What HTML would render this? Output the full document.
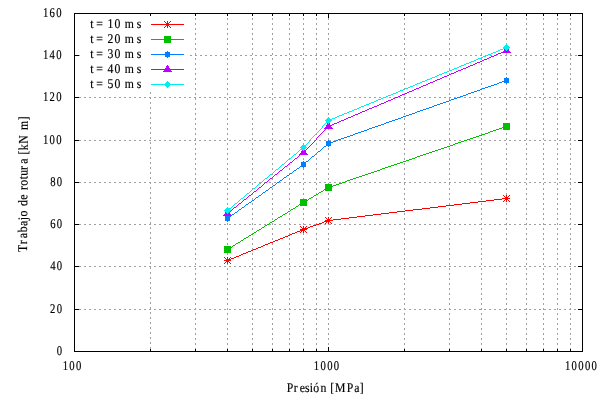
<!DOCTYPE html>
<html><head><meta charset="utf-8"><style>
html,body{margin:0;padding:0;background:#fff;width:600px;height:400px;overflow:hidden}
svg{display:block}
text{font-family:"Liberation Serif",serif;font-size:13.333px;white-space:pre;fill:#000;stroke:#000;stroke-width:0.18px;text-rendering:geometricPrecision}
</style></head><body>
<svg width="600" height="400" viewBox="0 0 600 400" shape-rendering="crispEdges" style="will-change:transform">
<rect width="600" height="400" fill="#fff"/>
<path fill="#a0a0a4" d="M74 55h2v1h-2zM74 97h2v1h-2zM74 140h2v1h-2zM74 182h2v1h-2zM74 224h2v1h-2zM74 266h2v1h-2zM74 309h2v1h-2zM79 55h1v1h-1zM79 97h2v1h-2zM79 140h2v1h-2zM79 182h2v1h-2zM79 224h2v1h-2zM79 266h2v1h-2zM79 309h2v1h-2zM84 97h2v1h-2zM84 140h2v1h-2zM84 182h2v1h-2zM84 224h2v1h-2zM84 266h2v1h-2zM84 309h2v1h-2zM89 97h2v1h-2zM89 140h2v1h-2zM89 182h2v1h-2zM89 224h2v1h-2zM89 266h2v1h-2zM89 309h2v1h-2zM94 97h2v1h-2zM94 140h2v1h-2zM94 182h2v1h-2zM94 224h2v1h-2zM94 266h2v1h-2zM94 309h2v1h-2zM99 97h2v1h-2zM99 140h2v1h-2zM99 182h2v1h-2zM99 224h2v1h-2zM99 266h2v1h-2zM99 309h2v1h-2zM104 97h2v1h-2zM104 140h2v1h-2zM104 182h2v1h-2zM104 224h2v1h-2zM104 266h2v1h-2zM104 309h2v1h-2zM109 97h2v1h-2zM109 140h2v1h-2zM109 182h2v1h-2zM109 224h2v1h-2zM109 266h2v1h-2zM109 309h2v1h-2zM114 97h2v1h-2zM114 140h2v1h-2zM114 182h2v1h-2zM114 224h2v1h-2zM114 266h2v1h-2zM114 309h2v1h-2zM119 97h2v1h-2zM119 140h2v1h-2zM119 182h2v1h-2zM119 224h2v1h-2zM119 266h2v1h-2zM119 309h2v1h-2zM124 97h2v1h-2zM124 140h2v1h-2zM124 182h2v1h-2zM124 224h2v1h-2zM124 266h2v1h-2zM124 309h2v1h-2zM129 97h2v1h-2zM129 140h2v1h-2zM129 182h2v1h-2zM129 224h2v1h-2zM129 266h2v1h-2zM129 309h2v1h-2zM134 97h2v1h-2zM134 140h2v1h-2zM134 182h2v1h-2zM134 224h2v1h-2zM134 266h2v1h-2zM134 309h2v1h-2zM139 97h2v1h-2zM139 140h2v1h-2zM139 182h2v1h-2zM139 224h2v1h-2zM139 266h2v1h-2zM139 309h2v1h-2zM144 97h2v1h-2zM144 140h2v1h-2zM144 182h2v1h-2zM144 224h2v1h-2zM144 266h2v1h-2zM144 309h2v1h-2zM149 97h2v1h-2zM149 140h2v1h-2zM149 182h2v1h-2zM149 224h2v1h-2zM149 266h2v1h-2zM149 309h2v1h-2zM150 92h1v2h-1zM150 98h1v1h-1zM150 102h1v2h-1zM150 107h1v2h-1zM150 112h1v2h-1zM150 117h1v2h-1zM150 122h1v2h-1zM150 127h1v2h-1zM150 132h1v2h-1zM150 137h1v2h-1zM150 142h1v2h-1zM150 147h1v2h-1zM150 152h1v2h-1zM150 157h1v2h-1zM150 162h1v2h-1zM150 167h1v2h-1zM150 172h1v2h-1zM150 177h1v2h-1zM150 183h1v1h-1zM150 187h1v2h-1zM150 192h1v2h-1zM150 197h1v2h-1zM150 202h1v2h-1zM150 207h1v2h-1zM150 212h1v2h-1zM150 217h1v2h-1zM150 222h1v2h-1zM150 227h1v2h-1zM150 232h1v2h-1zM150 237h1v2h-1zM150 242h1v2h-1zM150 247h1v2h-1zM150 252h1v2h-1zM150 257h1v2h-1zM150 262h1v2h-1zM150 267h1v2h-1zM150 272h1v2h-1zM150 277h1v2h-1zM150 282h1v2h-1zM150 287h1v2h-1zM150 292h1v2h-1zM150 297h1v2h-1zM150 302h1v2h-1zM150 307h1v2h-1zM150 312h1v2h-1zM150 317h1v2h-1zM150 322h1v2h-1zM150 327h1v2h-1zM150 332h1v2h-1zM150 337h1v2h-1zM150 342h1v2h-1zM150 347h1v2h-1zM154 97h2v1h-2zM154 140h2v1h-2zM154 182h2v1h-2zM154 224h2v1h-2zM154 266h2v1h-2zM154 309h2v1h-2zM159 97h2v1h-2zM159 140h2v1h-2zM159 182h2v1h-2zM159 224h2v1h-2zM159 266h2v1h-2zM159 309h2v1h-2zM164 97h2v1h-2zM164 140h2v1h-2zM164 182h2v1h-2zM164 224h2v1h-2zM164 266h2v1h-2zM164 309h2v1h-2zM169 97h2v1h-2zM169 140h2v1h-2zM169 182h2v1h-2zM169 224h2v1h-2zM169 266h2v1h-2zM169 309h2v1h-2zM174 97h2v1h-2zM174 140h2v1h-2zM174 182h2v1h-2zM174 224h2v1h-2zM174 266h2v1h-2zM174 309h2v1h-2zM179 97h2v1h-2zM179 140h2v1h-2zM179 182h2v1h-2zM179 224h2v1h-2zM179 266h2v1h-2zM179 309h2v1h-2zM184 97h2v1h-2zM184 140h2v1h-2zM184 182h2v1h-2zM184 224h2v1h-2zM184 266h2v1h-2zM184 309h2v1h-2zM189 97h2v1h-2zM189 140h2v1h-2zM189 182h2v1h-2zM189 224h2v1h-2zM189 266h2v1h-2zM189 309h2v1h-2zM190 55h2v1h-2zM194 97h2v1h-2zM194 140h2v1h-2zM194 182h2v1h-2zM194 224h2v1h-2zM194 266h2v1h-2zM194 309h2v1h-2zM195 13h1v2h-1zM195 18h1v2h-1zM195 23h1v2h-1zM195 28h1v2h-1zM195 33h1v2h-1zM195 38h1v2h-1zM195 43h1v2h-1zM195 48h1v2h-1zM195 53h1v2h-1zM195 58h1v2h-1zM195 63h1v2h-1zM195 68h1v2h-1zM195 73h1v2h-1zM195 78h1v2h-1zM195 83h1v2h-1zM195 88h1v2h-1zM195 93h1v2h-1zM195 98h1v2h-1zM195 103h1v2h-1zM195 108h1v2h-1zM195 113h1v2h-1zM195 118h1v2h-1zM195 123h1v2h-1zM195 128h1v2h-1zM195 133h1v2h-1zM195 138h1v2h-1zM195 143h1v2h-1zM195 148h1v2h-1zM195 153h1v2h-1zM195 158h1v2h-1zM195 163h1v2h-1zM195 168h1v2h-1zM195 173h1v2h-1zM195 178h1v2h-1zM195 183h1v2h-1zM195 188h1v2h-1zM195 193h1v2h-1zM195 198h1v2h-1zM195 203h1v2h-1zM195 208h1v2h-1zM195 213h1v2h-1zM195 218h1v2h-1zM195 223h1v1h-1zM195 228h1v2h-1zM195 233h1v2h-1zM195 238h1v2h-1zM195 243h1v2h-1zM195 248h1v2h-1zM195 253h1v2h-1zM195 258h1v2h-1zM195 263h1v2h-1zM195 268h1v2h-1zM195 273h1v2h-1zM195 278h1v2h-1zM195 283h1v2h-1zM195 288h1v2h-1zM195 293h1v2h-1zM195 298h1v2h-1zM195 303h1v2h-1zM195 308h1v1h-1zM195 313h1v2h-1zM195 318h1v2h-1zM195 323h1v2h-1zM195 328h1v2h-1zM195 333h1v2h-1zM195 338h1v2h-1zM195 343h1v2h-1zM195 348h1v2h-1zM195 55h2v1h-2zM199 97h2v1h-2zM199 140h2v1h-2zM199 182h2v1h-2zM199 224h2v1h-2zM199 266h2v1h-2zM199 309h2v1h-2zM200 55h2v1h-2zM204 97h2v1h-2zM204 140h2v1h-2zM204 182h2v1h-2zM204 224h2v1h-2zM204 266h2v1h-2zM204 309h2v1h-2zM205 55h2v1h-2zM209 97h2v1h-2zM209 140h2v1h-2zM209 182h2v1h-2zM209 224h2v1h-2zM209 266h2v1h-2zM209 309h2v1h-2zM210 55h2v1h-2zM214 97h2v1h-2zM214 140h2v1h-2zM214 182h2v1h-2zM214 224h2v1h-2zM214 266h2v1h-2zM214 309h2v1h-2zM215 55h2v1h-2zM219 97h2v1h-2zM219 140h2v1h-2zM219 182h2v1h-2zM219 224h2v1h-2zM219 266h2v1h-2zM219 309h2v1h-2zM220 55h2v1h-2zM224 97h2v1h-2zM224 140h2v1h-2zM224 182h2v1h-2zM224 224h2v1h-2zM224 266h2v1h-2zM224 309h2v1h-2zM225 55h2v1h-2zM227 13h1v2h-1zM227 18h1v2h-1zM227 23h1v2h-1zM227 28h1v2h-1zM227 33h1v2h-1zM227 38h1v2h-1zM227 43h1v2h-1zM227 48h1v2h-1zM227 53h1v2h-1zM227 58h1v2h-1zM227 63h1v2h-1zM227 68h1v2h-1zM227 73h1v2h-1zM227 78h1v2h-1zM227 83h1v2h-1zM227 88h1v2h-1zM227 93h1v2h-1zM227 98h1v2h-1zM227 103h1v2h-1zM227 108h1v2h-1zM227 113h1v2h-1zM227 118h1v2h-1zM227 123h1v2h-1zM227 128h1v2h-1zM227 133h1v2h-1zM227 138h1v2h-1zM227 143h1v2h-1zM227 148h1v2h-1zM227 153h1v2h-1zM227 158h1v2h-1zM227 163h1v2h-1zM227 168h1v2h-1zM227 173h1v2h-1zM227 178h1v2h-1zM227 183h1v2h-1zM227 188h1v2h-1zM227 193h1v2h-1zM227 198h1v2h-1zM227 203h1v2h-1zM227 208h1v2h-1zM227 213h1v2h-1zM227 218h1v2h-1zM227 223h1v2h-1zM227 228h1v2h-1zM227 233h1v2h-1zM227 238h1v2h-1zM227 243h1v2h-1zM227 248h1v2h-1zM227 253h1v2h-1zM227 258h1v2h-1zM227 263h1v2h-1zM227 268h1v2h-1zM227 273h1v2h-1zM227 278h1v2h-1zM227 283h1v2h-1zM227 288h1v2h-1zM227 293h1v2h-1zM227 298h1v2h-1zM227 303h1v2h-1zM227 308h1v2h-1zM227 313h1v2h-1zM227 318h1v2h-1zM227 323h1v2h-1zM227 328h1v2h-1zM227 333h1v2h-1zM227 338h1v2h-1zM227 343h1v2h-1zM227 348h1v2h-1zM229 97h2v1h-2zM229 140h2v1h-2zM229 182h2v1h-2zM229 224h2v1h-2zM229 266h2v1h-2zM229 309h2v1h-2zM230 55h2v1h-2zM234 97h2v1h-2zM234 140h2v1h-2zM234 182h2v1h-2zM234 224h2v1h-2zM234 266h2v1h-2zM234 309h2v1h-2zM235 55h2v1h-2zM239 97h2v1h-2zM239 140h2v1h-2zM239 182h2v1h-2zM239 224h2v1h-2zM239 266h2v1h-2zM239 309h2v1h-2zM240 55h2v1h-2zM244 97h2v1h-2zM244 140h2v1h-2zM244 182h2v1h-2zM244 224h2v1h-2zM244 266h2v1h-2zM244 309h2v1h-2zM245 55h2v1h-2zM249 97h2v1h-2zM249 140h2v1h-2zM249 182h2v1h-2zM249 224h2v1h-2zM249 266h2v1h-2zM249 309h2v1h-2zM250 55h2v1h-2zM252 13h1v2h-1zM252 18h1v2h-1zM252 23h1v2h-1zM252 28h1v2h-1zM252 33h1v2h-1zM252 38h1v2h-1zM252 43h1v2h-1zM252 48h1v2h-1zM252 53h1v2h-1zM252 58h1v2h-1zM252 63h1v2h-1zM252 68h1v2h-1zM252 73h1v2h-1zM252 78h1v2h-1zM252 83h1v2h-1zM252 88h1v2h-1zM252 93h1v2h-1zM252 98h1v2h-1zM252 103h1v2h-1zM252 108h1v2h-1zM252 113h1v2h-1zM252 118h1v2h-1zM252 123h1v2h-1zM252 128h1v2h-1zM252 133h1v2h-1zM252 138h1v2h-1zM252 143h1v2h-1zM252 148h1v2h-1zM252 153h1v2h-1zM252 158h1v2h-1zM252 163h1v2h-1zM252 168h1v2h-1zM252 173h1v2h-1zM252 178h1v2h-1zM252 183h1v2h-1zM252 188h1v2h-1zM252 193h1v2h-1zM252 198h1v2h-1zM252 203h1v2h-1zM252 208h1v2h-1zM252 213h1v2h-1zM252 218h1v2h-1zM252 223h1v2h-1zM252 228h1v2h-1zM252 233h1v2h-1zM252 238h1v2h-1zM252 243h1v2h-1zM252 248h1v2h-1zM252 253h1v2h-1zM252 258h1v2h-1zM252 263h1v2h-1zM252 268h1v2h-1zM252 273h1v2h-1zM252 278h1v2h-1zM252 283h1v2h-1zM252 288h1v2h-1zM252 293h1v2h-1zM252 298h1v2h-1zM252 303h1v2h-1zM252 308h1v2h-1zM252 313h1v2h-1zM252 318h1v2h-1zM252 323h1v2h-1zM252 328h1v2h-1zM252 333h1v2h-1zM252 338h1v2h-1zM252 343h1v2h-1zM252 348h1v2h-1zM254 97h2v1h-2zM254 140h2v1h-2zM254 182h2v1h-2zM254 224h2v1h-2zM254 266h2v1h-2zM254 309h2v1h-2zM255 55h2v1h-2zM259 97h2v1h-2zM259 140h2v1h-2zM259 182h2v1h-2zM259 224h2v1h-2zM259 266h2v1h-2zM259 309h2v1h-2zM260 55h2v1h-2zM264 97h2v1h-2zM264 140h2v1h-2zM264 182h2v1h-2zM264 224h2v1h-2zM264 266h2v1h-2zM264 309h2v1h-2zM265 55h2v1h-2zM269 97h2v1h-2zM269 140h2v1h-2zM269 182h2v1h-2zM269 224h2v1h-2zM269 266h2v1h-2zM269 309h2v1h-2zM270 55h2v1h-2zM272 13h1v2h-1zM272 18h1v2h-1zM272 23h1v2h-1zM272 28h1v2h-1zM272 33h1v2h-1zM272 38h1v2h-1zM272 43h1v2h-1zM272 48h1v2h-1zM272 53h1v2h-1zM272 58h1v2h-1zM272 63h1v2h-1zM272 68h1v2h-1zM272 73h1v2h-1zM272 78h1v2h-1zM272 83h1v2h-1zM272 88h1v2h-1zM272 93h1v2h-1zM272 98h1v2h-1zM272 103h1v2h-1zM272 108h1v2h-1zM272 113h1v2h-1zM272 118h1v2h-1zM272 123h1v2h-1zM272 128h1v2h-1zM272 133h1v2h-1zM272 138h1v2h-1zM272 143h1v2h-1zM272 148h1v2h-1zM272 153h1v2h-1zM272 158h1v2h-1zM272 163h1v2h-1zM272 168h1v2h-1zM272 173h1v2h-1zM272 178h1v2h-1zM272 183h1v2h-1zM272 188h1v2h-1zM272 193h1v2h-1zM272 198h1v2h-1zM272 203h1v2h-1zM272 208h1v2h-1zM272 213h1v2h-1zM272 218h1v2h-1zM272 223h1v2h-1zM272 228h1v2h-1zM272 233h1v2h-1zM272 238h1v2h-1zM272 243h1v2h-1zM272 248h1v2h-1zM272 253h1v2h-1zM272 258h1v2h-1zM272 263h1v2h-1zM272 268h1v2h-1zM272 273h1v2h-1zM272 278h1v2h-1zM272 283h1v2h-1zM272 288h1v2h-1zM272 293h1v2h-1zM272 298h1v2h-1zM272 303h1v2h-1zM272 308h1v2h-1zM272 313h1v2h-1zM272 318h1v2h-1zM272 323h1v2h-1zM272 328h1v2h-1zM272 333h1v2h-1zM272 338h1v2h-1zM272 343h1v2h-1zM272 348h1v2h-1zM274 97h2v1h-2zM274 140h2v1h-2zM274 182h2v1h-2zM274 224h2v1h-2zM274 266h2v1h-2zM274 309h2v1h-2zM275 55h2v1h-2zM279 97h2v1h-2zM279 140h2v1h-2zM279 182h2v1h-2zM279 224h2v1h-2zM279 266h2v1h-2zM279 309h2v1h-2zM280 55h2v1h-2zM284 97h2v1h-2zM284 140h2v1h-2zM284 182h2v1h-2zM284 224h2v1h-2zM284 266h2v1h-2zM284 309h2v1h-2zM285 55h2v1h-2zM289 13h1v2h-1zM289 18h1v2h-1zM289 23h1v2h-1zM289 28h1v2h-1zM289 33h1v2h-1zM289 38h1v2h-1zM289 43h1v2h-1zM289 48h1v2h-1zM289 53h1v2h-1zM289 58h1v2h-1zM289 63h1v2h-1zM289 68h1v2h-1zM289 73h1v2h-1zM289 78h1v2h-1zM289 83h1v2h-1zM289 88h1v2h-1zM289 93h1v2h-1zM289 98h1v2h-1zM289 103h1v2h-1zM289 108h1v2h-1zM289 113h1v2h-1zM289 118h1v2h-1zM289 123h1v2h-1zM289 128h1v2h-1zM289 133h1v2h-1zM289 138h1v2h-1zM289 143h1v2h-1zM289 148h1v2h-1zM289 153h1v2h-1zM289 158h1v2h-1zM289 163h1v2h-1zM289 168h1v2h-1zM289 173h1v2h-1zM289 178h1v2h-1zM289 183h1v2h-1zM289 188h1v2h-1zM289 193h1v2h-1zM289 198h1v2h-1zM289 203h1v2h-1zM289 208h1v2h-1zM289 213h1v2h-1zM289 218h1v2h-1zM289 223h1v1h-1zM289 228h1v2h-1zM289 233h1v2h-1zM289 238h1v2h-1zM289 243h1v2h-1zM289 248h1v2h-1zM289 253h1v2h-1zM289 258h1v2h-1zM289 263h1v2h-1zM289 268h1v2h-1zM289 273h1v2h-1zM289 278h1v2h-1zM289 283h1v2h-1zM289 288h1v2h-1zM289 293h1v2h-1zM289 298h1v2h-1zM289 303h1v2h-1zM289 308h1v1h-1zM289 313h1v2h-1zM289 318h1v2h-1zM289 323h1v2h-1zM289 328h1v2h-1zM289 333h1v2h-1zM289 338h1v2h-1zM289 343h1v2h-1zM289 348h1v2h-1zM289 97h2v1h-2zM289 140h2v1h-2zM289 182h2v1h-2zM289 224h2v1h-2zM289 266h2v1h-2zM289 309h2v1h-2zM290 55h2v1h-2zM294 97h2v1h-2zM294 140h2v1h-2zM294 182h2v1h-2zM294 224h2v1h-2zM294 266h2v1h-2zM294 309h2v1h-2zM295 55h2v1h-2zM299 97h2v1h-2zM299 140h2v1h-2zM299 182h2v1h-2zM299 224h2v1h-2zM299 266h2v1h-2zM299 309h2v1h-2zM300 55h2v1h-2zM303 13h1v2h-1zM303 18h1v2h-1zM303 23h1v2h-1zM303 28h1v2h-1zM303 33h1v2h-1zM303 38h1v2h-1zM303 43h1v2h-1zM303 48h1v2h-1zM303 53h1v2h-1zM303 58h1v2h-1zM303 63h1v2h-1zM303 68h1v2h-1zM303 73h1v2h-1zM303 78h1v2h-1zM303 83h1v2h-1zM303 88h1v2h-1zM303 93h1v2h-1zM303 98h1v2h-1zM303 103h1v2h-1zM303 108h1v2h-1zM303 113h1v2h-1zM303 118h1v2h-1zM303 123h1v2h-1zM303 128h1v2h-1zM303 133h1v2h-1zM303 138h1v2h-1zM303 143h1v2h-1zM303 148h1v2h-1zM303 153h1v2h-1zM303 158h1v2h-1zM303 163h1v2h-1zM303 168h1v2h-1zM303 173h1v2h-1zM303 178h1v2h-1zM303 183h1v2h-1zM303 188h1v2h-1zM303 193h1v2h-1zM303 198h1v2h-1zM303 203h1v2h-1zM303 208h1v2h-1zM303 213h1v2h-1zM303 218h1v2h-1zM303 223h1v1h-1zM303 228h1v2h-1zM303 233h1v2h-1zM303 238h1v2h-1zM303 243h1v2h-1zM303 248h1v2h-1zM303 253h1v2h-1zM303 258h1v2h-1zM303 263h1v2h-1zM303 268h1v2h-1zM303 273h1v2h-1zM303 278h1v2h-1zM303 283h1v2h-1zM303 288h1v2h-1zM303 293h1v2h-1zM303 298h1v2h-1zM303 303h1v2h-1zM303 308h1v1h-1zM303 313h1v2h-1zM303 318h1v2h-1zM303 323h1v2h-1zM303 328h1v2h-1zM303 333h1v2h-1zM303 338h1v2h-1zM303 343h1v2h-1zM303 348h1v2h-1zM303 224h3v1h-3zM303 309h3v1h-3zM304 97h2v1h-2zM304 140h2v1h-2zM304 182h2v1h-2zM304 266h2v1h-2zM305 55h2v1h-2zM309 97h2v1h-2zM309 140h2v1h-2zM309 182h2v1h-2zM309 224h2v1h-2zM309 266h2v1h-2zM309 309h2v1h-2zM310 55h2v1h-2zM314 97h2v1h-2zM314 140h2v1h-2zM314 182h2v1h-2zM314 266h2v1h-2zM314 224h3v1h-3zM314 309h3v1h-3zM315 55h2v1h-2zM316 13h1v2h-1zM316 18h1v2h-1zM316 23h1v2h-1zM316 28h1v2h-1zM316 33h1v2h-1zM316 38h1v2h-1zM316 43h1v2h-1zM316 48h1v2h-1zM316 53h1v2h-1zM316 58h1v2h-1zM316 63h1v2h-1zM316 68h1v2h-1zM316 73h1v2h-1zM316 78h1v2h-1zM316 83h1v2h-1zM316 88h1v2h-1zM316 93h1v2h-1zM316 98h1v2h-1zM316 103h1v2h-1zM316 108h1v2h-1zM316 113h1v2h-1zM316 118h1v2h-1zM316 123h1v2h-1zM316 128h1v2h-1zM316 133h1v2h-1zM316 138h1v2h-1zM316 143h1v2h-1zM316 148h1v2h-1zM316 153h1v2h-1zM316 158h1v2h-1zM316 163h1v2h-1zM316 168h1v2h-1zM316 173h1v2h-1zM316 178h1v2h-1zM316 183h1v2h-1zM316 188h1v2h-1zM316 193h1v2h-1zM316 198h1v2h-1zM316 203h1v2h-1zM316 208h1v2h-1zM316 213h1v2h-1zM316 218h1v2h-1zM316 223h1v1h-1zM316 228h1v2h-1zM316 233h1v2h-1zM316 238h1v2h-1zM316 243h1v2h-1zM316 248h1v2h-1zM316 253h1v2h-1zM316 258h1v2h-1zM316 263h1v2h-1zM316 268h1v2h-1zM316 273h1v2h-1zM316 278h1v2h-1zM316 283h1v2h-1zM316 288h1v2h-1zM316 293h1v2h-1zM316 298h1v2h-1zM316 303h1v2h-1zM316 308h1v1h-1zM316 313h1v2h-1zM316 318h1v2h-1zM316 323h1v2h-1zM316 328h1v2h-1zM316 333h1v2h-1zM316 338h1v2h-1zM316 343h1v2h-1zM316 348h1v2h-1zM319 97h2v1h-2zM319 140h2v1h-2zM319 182h2v1h-2zM319 224h2v1h-2zM319 266h2v1h-2zM319 309h2v1h-2zM320 55h2v1h-2zM324 97h2v1h-2zM324 140h2v1h-2zM324 182h2v1h-2zM324 224h2v1h-2zM324 266h2v1h-2zM324 309h2v1h-2zM325 55h2v1h-2zM328 13h1v2h-1zM328 18h1v2h-1zM328 23h1v2h-1zM328 28h1v2h-1zM328 33h1v2h-1zM328 38h1v2h-1zM328 43h1v2h-1zM328 48h1v2h-1zM328 53h1v2h-1zM328 58h1v2h-1zM328 63h1v2h-1zM328 68h1v2h-1zM328 73h1v2h-1zM328 78h1v2h-1zM328 83h1v2h-1zM328 88h1v2h-1zM328 93h1v2h-1zM328 98h1v2h-1zM328 103h1v2h-1zM328 108h1v2h-1zM328 113h1v2h-1zM328 118h1v2h-1zM328 123h1v2h-1zM328 128h1v2h-1zM328 133h1v2h-1zM328 138h1v2h-1zM328 143h1v2h-1zM328 148h1v2h-1zM328 153h1v2h-1zM328 158h1v2h-1zM328 163h1v2h-1zM328 168h1v2h-1zM328 173h1v2h-1zM328 178h1v2h-1zM328 183h1v2h-1zM328 188h1v2h-1zM328 193h1v2h-1zM328 198h1v2h-1zM328 203h1v2h-1zM328 208h1v2h-1zM328 213h1v2h-1zM328 218h1v2h-1zM328 223h1v1h-1zM328 228h1v2h-1zM328 233h1v2h-1zM328 238h1v2h-1zM328 243h1v2h-1zM328 248h1v2h-1zM328 253h1v2h-1zM328 258h1v2h-1zM328 263h1v2h-1zM328 268h1v2h-1zM328 273h1v2h-1zM328 278h1v2h-1zM328 283h1v2h-1zM328 288h1v2h-1zM328 293h1v2h-1zM328 298h1v2h-1zM328 303h1v2h-1zM328 308h1v1h-1zM328 313h1v2h-1zM328 318h1v2h-1zM328 323h1v2h-1zM328 328h1v2h-1zM328 333h1v2h-1zM328 338h1v2h-1zM328 343h1v2h-1zM328 348h1v2h-1zM328 224h3v1h-3zM328 309h3v1h-3zM329 97h2v1h-2zM329 140h2v1h-2zM329 182h2v1h-2zM329 266h2v1h-2zM330 55h2v1h-2zM334 97h2v1h-2zM334 140h2v1h-2zM334 182h2v1h-2zM334 224h2v1h-2zM334 266h2v1h-2zM334 309h2v1h-2zM335 55h2v1h-2zM339 97h2v1h-2zM339 140h2v1h-2zM339 182h2v1h-2zM339 224h2v1h-2zM339 266h2v1h-2zM339 309h2v1h-2zM340 55h2v1h-2zM344 97h2v1h-2zM344 140h2v1h-2zM344 182h2v1h-2zM344 224h2v1h-2zM344 266h2v1h-2zM344 309h2v1h-2zM345 55h2v1h-2zM349 97h2v1h-2zM349 140h2v1h-2zM349 182h2v1h-2zM349 224h2v1h-2zM349 266h2v1h-2zM349 309h2v1h-2zM350 55h2v1h-2zM354 97h2v1h-2zM354 140h2v1h-2zM354 182h2v1h-2zM354 224h2v1h-2zM354 266h2v1h-2zM354 309h2v1h-2zM355 55h2v1h-2zM359 97h2v1h-2zM359 140h2v1h-2zM359 182h2v1h-2zM359 224h2v1h-2zM359 266h2v1h-2zM359 309h2v1h-2zM360 55h2v1h-2zM364 97h2v1h-2zM364 140h2v1h-2zM364 182h2v1h-2zM364 224h2v1h-2zM364 266h2v1h-2zM364 309h2v1h-2zM365 55h2v1h-2zM369 97h2v1h-2zM369 140h2v1h-2zM369 182h2v1h-2zM369 224h2v1h-2zM369 266h2v1h-2zM369 309h2v1h-2zM370 55h2v1h-2zM374 97h2v1h-2zM374 140h2v1h-2zM374 182h2v1h-2zM374 224h2v1h-2zM374 266h2v1h-2zM374 309h2v1h-2zM375 55h2v1h-2zM379 97h2v1h-2zM379 140h2v1h-2zM379 182h2v1h-2zM379 224h2v1h-2zM379 266h2v1h-2zM379 309h2v1h-2zM380 55h2v1h-2zM384 97h2v1h-2zM384 140h2v1h-2zM384 182h2v1h-2zM384 224h2v1h-2zM384 266h2v1h-2zM384 309h2v1h-2zM385 55h2v1h-2zM389 97h2v1h-2zM389 140h2v1h-2zM389 182h2v1h-2zM389 224h2v1h-2zM389 266h2v1h-2zM389 309h2v1h-2zM390 55h2v1h-2zM394 97h2v1h-2zM394 140h2v1h-2zM394 182h2v1h-2zM394 224h2v1h-2zM394 266h2v1h-2zM394 309h2v1h-2zM395 55h2v1h-2zM399 97h2v1h-2zM399 140h2v1h-2zM399 182h2v1h-2zM399 224h2v1h-2zM399 266h2v1h-2zM399 309h2v1h-2zM400 55h2v1h-2zM404 13h1v2h-1zM404 18h1v2h-1zM404 23h1v2h-1zM404 28h1v2h-1zM404 33h1v2h-1zM404 38h1v2h-1zM404 43h1v2h-1zM404 48h1v2h-1zM404 53h1v2h-1zM404 58h1v2h-1zM404 63h1v2h-1zM404 68h1v2h-1zM404 73h1v2h-1zM404 78h1v2h-1zM404 83h1v2h-1zM404 88h1v2h-1zM404 93h1v2h-1zM404 98h1v2h-1zM404 103h1v2h-1zM404 108h1v2h-1zM404 113h1v2h-1zM404 118h1v2h-1zM404 123h1v2h-1zM404 128h1v2h-1zM404 133h1v2h-1zM404 138h1v2h-1zM404 143h1v2h-1zM404 148h1v2h-1zM404 153h1v2h-1zM404 158h1v2h-1zM404 163h1v2h-1zM404 168h1v2h-1zM404 173h1v2h-1zM404 178h1v2h-1zM404 183h1v2h-1zM404 188h1v2h-1zM404 193h1v2h-1zM404 198h1v2h-1zM404 203h1v2h-1zM404 208h1v2h-1zM404 213h1v2h-1zM404 218h1v2h-1zM404 223h1v1h-1zM404 228h1v2h-1zM404 233h1v2h-1zM404 238h1v2h-1zM404 243h1v2h-1zM404 248h1v2h-1zM404 253h1v2h-1zM404 258h1v2h-1zM404 263h1v2h-1zM404 268h1v2h-1zM404 273h1v2h-1zM404 278h1v2h-1zM404 283h1v2h-1zM404 288h1v2h-1zM404 293h1v2h-1zM404 298h1v2h-1zM404 303h1v2h-1zM404 308h1v1h-1zM404 313h1v2h-1zM404 318h1v2h-1zM404 323h1v2h-1zM404 328h1v2h-1zM404 333h1v2h-1zM404 338h1v2h-1zM404 343h1v2h-1zM404 348h1v2h-1zM404 97h2v1h-2zM404 140h2v1h-2zM404 182h2v1h-2zM404 224h2v1h-2zM404 266h2v1h-2zM404 309h2v1h-2zM405 55h2v1h-2zM409 97h2v1h-2zM409 140h2v1h-2zM409 182h2v1h-2zM409 224h2v1h-2zM409 266h2v1h-2zM409 309h2v1h-2zM410 55h2v1h-2zM414 97h2v1h-2zM414 140h2v1h-2zM414 182h2v1h-2zM414 224h2v1h-2zM414 266h2v1h-2zM414 309h2v1h-2zM415 55h2v1h-2zM419 97h2v1h-2zM419 140h2v1h-2zM419 182h2v1h-2zM419 224h2v1h-2zM419 266h2v1h-2zM419 309h2v1h-2zM420 55h2v1h-2zM424 97h2v1h-2zM424 140h2v1h-2zM424 182h2v1h-2zM424 224h2v1h-2zM424 266h2v1h-2zM424 309h2v1h-2zM425 55h2v1h-2zM429 97h2v1h-2zM429 140h2v1h-2zM429 182h2v1h-2zM429 224h2v1h-2zM429 266h2v1h-2zM429 309h2v1h-2zM430 55h2v1h-2zM434 97h2v1h-2zM434 140h2v1h-2zM434 182h2v1h-2zM434 224h2v1h-2zM434 266h2v1h-2zM434 309h2v1h-2zM435 55h2v1h-2zM439 97h2v1h-2zM439 140h2v1h-2zM439 182h2v1h-2zM439 224h2v1h-2zM439 266h2v1h-2zM439 309h2v1h-2zM440 55h2v1h-2zM444 97h2v1h-2zM444 140h2v1h-2zM444 182h2v1h-2zM444 224h2v1h-2zM444 266h2v1h-2zM444 309h2v1h-2zM445 55h2v1h-2zM449 13h1v2h-1zM449 18h1v2h-1zM449 23h1v2h-1zM449 28h1v2h-1zM449 33h1v2h-1zM449 38h1v2h-1zM449 43h1v2h-1zM449 48h1v2h-1zM449 53h1v2h-1zM449 58h1v2h-1zM449 63h1v2h-1zM449 68h1v2h-1zM449 73h1v2h-1zM449 78h1v2h-1zM449 83h1v2h-1zM449 88h1v2h-1zM449 93h1v2h-1zM449 98h1v2h-1zM449 103h1v2h-1zM449 108h1v2h-1zM449 113h1v2h-1zM449 118h1v2h-1zM449 123h1v2h-1zM449 128h1v2h-1zM449 133h1v2h-1zM449 138h1v2h-1zM449 143h1v2h-1zM449 148h1v2h-1zM449 153h1v2h-1zM449 158h1v2h-1zM449 163h1v2h-1zM449 168h1v2h-1zM449 173h1v2h-1zM449 178h1v2h-1zM449 183h1v2h-1zM449 188h1v2h-1zM449 193h1v2h-1zM449 198h1v2h-1zM449 203h1v2h-1zM449 208h1v2h-1zM449 213h1v2h-1zM449 218h1v2h-1zM449 223h1v1h-1zM449 228h1v2h-1zM449 233h1v2h-1zM449 238h1v2h-1zM449 243h1v2h-1zM449 248h1v2h-1zM449 253h1v2h-1zM449 258h1v2h-1zM449 263h1v2h-1zM449 268h1v2h-1zM449 273h1v2h-1zM449 278h1v2h-1zM449 283h1v2h-1zM449 288h1v2h-1zM449 293h1v2h-1zM449 298h1v2h-1zM449 303h1v2h-1zM449 308h1v1h-1zM449 313h1v2h-1zM449 318h1v2h-1zM449 323h1v2h-1zM449 328h1v2h-1zM449 333h1v2h-1zM449 338h1v2h-1zM449 343h1v2h-1zM449 348h1v2h-1zM449 97h2v1h-2zM449 140h2v1h-2zM449 182h2v1h-2zM449 224h2v1h-2zM449 266h2v1h-2zM449 309h2v1h-2zM450 55h2v1h-2zM454 97h2v1h-2zM454 140h2v1h-2zM454 182h2v1h-2zM454 224h2v1h-2zM454 266h2v1h-2zM454 309h2v1h-2zM455 55h2v1h-2zM459 97h2v1h-2zM459 140h2v1h-2zM459 182h2v1h-2zM459 224h2v1h-2zM459 266h2v1h-2zM459 309h2v1h-2zM460 55h2v1h-2zM464 97h2v1h-2zM464 140h2v1h-2zM464 182h2v1h-2zM464 224h2v1h-2zM464 266h2v1h-2zM464 309h2v1h-2zM465 55h2v1h-2zM469 97h2v1h-2zM469 140h2v1h-2zM469 182h2v1h-2zM469 224h2v1h-2zM469 266h2v1h-2zM469 309h2v1h-2zM470 55h2v1h-2zM474 97h2v1h-2zM474 140h2v1h-2zM474 182h2v1h-2zM474 224h2v1h-2zM474 266h2v1h-2zM474 309h2v1h-2zM475 55h2v1h-2zM479 97h2v1h-2zM479 140h2v1h-2zM479 182h2v1h-2zM479 266h2v1h-2zM479 224h3v1h-3zM479 309h3v1h-3zM480 55h2v1h-2zM481 13h1v2h-1zM481 18h1v2h-1zM481 23h1v2h-1zM481 28h1v2h-1zM481 33h1v2h-1zM481 38h1v2h-1zM481 43h1v2h-1zM481 48h1v2h-1zM481 53h1v2h-1zM481 58h1v2h-1zM481 63h1v2h-1zM481 68h1v2h-1zM481 73h1v2h-1zM481 78h1v2h-1zM481 83h1v2h-1zM481 88h1v2h-1zM481 93h1v2h-1zM481 98h1v2h-1zM481 103h1v2h-1zM481 108h1v2h-1zM481 113h1v2h-1zM481 118h1v2h-1zM481 123h1v2h-1zM481 128h1v2h-1zM481 133h1v2h-1zM481 138h1v2h-1zM481 143h1v2h-1zM481 148h1v2h-1zM481 153h1v2h-1zM481 158h1v2h-1zM481 163h1v2h-1zM481 168h1v2h-1zM481 173h1v2h-1zM481 178h1v2h-1zM481 183h1v2h-1zM481 188h1v2h-1zM481 193h1v2h-1zM481 198h1v2h-1zM481 203h1v2h-1zM481 208h1v2h-1zM481 213h1v2h-1zM481 218h1v2h-1zM481 223h1v1h-1zM481 228h1v2h-1zM481 233h1v2h-1zM481 238h1v2h-1zM481 243h1v2h-1zM481 248h1v2h-1zM481 253h1v2h-1zM481 258h1v2h-1zM481 263h1v2h-1zM481 268h1v2h-1zM481 273h1v2h-1zM481 278h1v2h-1zM481 283h1v2h-1zM481 288h1v2h-1zM481 293h1v2h-1zM481 298h1v2h-1zM481 303h1v2h-1zM481 308h1v1h-1zM481 313h1v2h-1zM481 318h1v2h-1zM481 323h1v2h-1zM481 328h1v2h-1zM481 333h1v2h-1zM481 338h1v2h-1zM481 343h1v2h-1zM481 348h1v2h-1zM484 97h2v1h-2zM484 140h2v1h-2zM484 182h2v1h-2zM484 224h2v1h-2zM484 266h2v1h-2zM484 309h2v1h-2zM485 55h2v1h-2zM489 97h2v1h-2zM489 140h2v1h-2zM489 182h2v1h-2zM489 224h2v1h-2zM489 266h2v1h-2zM489 309h2v1h-2zM490 55h2v1h-2zM494 97h2v1h-2zM494 140h2v1h-2zM494 182h2v1h-2zM494 224h2v1h-2zM494 266h2v1h-2zM494 309h2v1h-2zM495 55h2v1h-2zM499 97h2v1h-2zM499 140h2v1h-2zM499 182h2v1h-2zM499 224h2v1h-2zM499 266h2v1h-2zM499 309h2v1h-2zM500 55h2v1h-2zM504 97h2v1h-2zM504 140h2v1h-2zM504 182h2v1h-2zM504 266h2v1h-2zM504 224h3v1h-3zM504 309h3v1h-3zM505 55h2v1h-2zM506 13h1v2h-1zM506 18h1v2h-1zM506 23h1v2h-1zM506 28h1v2h-1zM506 33h1v2h-1zM506 38h1v2h-1zM506 43h1v2h-1zM506 48h1v2h-1zM506 53h1v2h-1zM506 58h1v2h-1zM506 63h1v2h-1zM506 68h1v2h-1zM506 73h1v2h-1zM506 78h1v2h-1zM506 83h1v2h-1zM506 88h1v2h-1zM506 93h1v2h-1zM506 98h1v2h-1zM506 103h1v2h-1zM506 108h1v2h-1zM506 113h1v2h-1zM506 118h1v2h-1zM506 123h1v2h-1zM506 128h1v2h-1zM506 133h1v2h-1zM506 138h1v2h-1zM506 143h1v2h-1zM506 148h1v2h-1zM506 153h1v2h-1zM506 158h1v2h-1zM506 163h1v2h-1zM506 168h1v2h-1zM506 173h1v2h-1zM506 178h1v2h-1zM506 183h1v2h-1zM506 188h1v2h-1zM506 193h1v2h-1zM506 198h1v2h-1zM506 203h1v2h-1zM506 208h1v2h-1zM506 213h1v2h-1zM506 218h1v2h-1zM506 223h1v1h-1zM506 228h1v2h-1zM506 233h1v2h-1zM506 238h1v2h-1zM506 243h1v2h-1zM506 248h1v2h-1zM506 253h1v2h-1zM506 258h1v2h-1zM506 263h1v2h-1zM506 268h1v2h-1zM506 273h1v2h-1zM506 278h1v2h-1zM506 283h1v2h-1zM506 288h1v2h-1zM506 293h1v2h-1zM506 298h1v2h-1zM506 303h1v2h-1zM506 308h1v1h-1zM506 313h1v2h-1zM506 318h1v2h-1zM506 323h1v2h-1zM506 328h1v2h-1zM506 333h1v2h-1zM506 338h1v2h-1zM506 343h1v2h-1zM506 348h1v2h-1zM509 97h2v1h-2zM509 140h2v1h-2zM509 182h2v1h-2zM509 224h2v1h-2zM509 266h2v1h-2zM509 309h2v1h-2zM510 55h2v1h-2zM514 97h2v1h-2zM514 140h2v1h-2zM514 182h2v1h-2zM514 224h2v1h-2zM514 266h2v1h-2zM514 309h2v1h-2zM515 55h2v1h-2zM519 97h2v1h-2zM519 140h2v1h-2zM519 182h2v1h-2zM519 224h2v1h-2zM519 266h2v1h-2zM519 309h2v1h-2zM520 55h2v1h-2zM524 97h2v1h-2zM524 140h2v1h-2zM524 182h2v1h-2zM524 266h2v1h-2zM524 224h3v1h-3zM524 309h3v1h-3zM525 55h2v1h-2zM526 13h1v2h-1zM526 18h1v2h-1zM526 23h1v2h-1zM526 28h1v2h-1zM526 33h1v2h-1zM526 38h1v2h-1zM526 43h1v2h-1zM526 48h1v2h-1zM526 53h1v2h-1zM526 58h1v2h-1zM526 63h1v2h-1zM526 68h1v2h-1zM526 73h1v2h-1zM526 78h1v2h-1zM526 83h1v2h-1zM526 88h1v2h-1zM526 93h1v2h-1zM526 98h1v2h-1zM526 103h1v2h-1zM526 108h1v2h-1zM526 113h1v2h-1zM526 118h1v2h-1zM526 123h1v2h-1zM526 128h1v2h-1zM526 133h1v2h-1zM526 138h1v2h-1zM526 143h1v2h-1zM526 148h1v2h-1zM526 153h1v2h-1zM526 158h1v2h-1zM526 163h1v2h-1zM526 168h1v2h-1zM526 173h1v2h-1zM526 178h1v2h-1zM526 183h1v2h-1zM526 188h1v2h-1zM526 193h1v2h-1zM526 198h1v2h-1zM526 203h1v2h-1zM526 208h1v2h-1zM526 213h1v2h-1zM526 218h1v2h-1zM526 223h1v1h-1zM526 228h1v2h-1zM526 233h1v2h-1zM526 238h1v2h-1zM526 243h1v2h-1zM526 248h1v2h-1zM526 253h1v2h-1zM526 258h1v2h-1zM526 263h1v2h-1zM526 268h1v2h-1zM526 273h1v2h-1zM526 278h1v2h-1zM526 283h1v2h-1zM526 288h1v2h-1zM526 293h1v2h-1zM526 298h1v2h-1zM526 303h1v2h-1zM526 308h1v1h-1zM526 313h1v2h-1zM526 318h1v2h-1zM526 323h1v2h-1zM526 328h1v2h-1zM526 333h1v2h-1zM526 338h1v2h-1zM526 343h1v2h-1zM526 348h1v2h-1zM529 97h2v1h-2zM529 140h2v1h-2zM529 182h2v1h-2zM529 224h2v1h-2zM529 266h2v1h-2zM529 309h2v1h-2zM530 55h2v1h-2zM534 97h2v1h-2zM534 140h2v1h-2zM534 182h2v1h-2zM534 224h2v1h-2zM534 266h2v1h-2zM534 309h2v1h-2zM535 55h2v1h-2zM539 97h2v1h-2zM539 140h2v1h-2zM539 182h2v1h-2zM539 224h2v1h-2zM539 266h2v1h-2zM539 309h2v1h-2zM540 55h2v1h-2zM543 13h1v2h-1zM543 18h1v2h-1zM543 23h1v2h-1zM543 28h1v2h-1zM543 33h1v2h-1zM543 38h1v2h-1zM543 43h1v2h-1zM543 48h1v2h-1zM543 53h1v2h-1zM543 58h1v2h-1zM543 63h1v2h-1zM543 68h1v2h-1zM543 73h1v2h-1zM543 78h1v2h-1zM543 83h1v2h-1zM543 88h1v2h-1zM543 93h1v2h-1zM543 98h1v2h-1zM543 103h1v2h-1zM543 108h1v2h-1zM543 113h1v2h-1zM543 118h1v2h-1zM543 123h1v2h-1zM543 128h1v2h-1zM543 133h1v2h-1zM543 138h1v2h-1zM543 143h1v2h-1zM543 148h1v2h-1zM543 153h1v2h-1zM543 158h1v2h-1zM543 163h1v2h-1zM543 168h1v2h-1zM543 173h1v2h-1zM543 178h1v2h-1zM543 183h1v2h-1zM543 188h1v2h-1zM543 193h1v2h-1zM543 198h1v2h-1zM543 203h1v2h-1zM543 208h1v2h-1zM543 213h1v2h-1zM543 218h1v2h-1zM543 223h1v1h-1zM543 228h1v2h-1zM543 233h1v2h-1zM543 238h1v2h-1zM543 243h1v2h-1zM543 248h1v2h-1zM543 253h1v2h-1zM543 258h1v2h-1zM543 263h1v2h-1zM543 268h1v2h-1zM543 273h1v2h-1zM543 278h1v2h-1zM543 283h1v2h-1zM543 288h1v2h-1zM543 293h1v2h-1zM543 298h1v2h-1zM543 303h1v2h-1zM543 308h1v1h-1zM543 313h1v2h-1zM543 318h1v2h-1zM543 323h1v2h-1zM543 328h1v2h-1zM543 333h1v2h-1zM543 338h1v2h-1zM543 343h1v2h-1zM543 348h1v2h-1zM543 224h3v1h-3zM543 309h3v1h-3zM544 97h2v1h-2zM544 140h2v1h-2zM544 182h2v1h-2zM544 266h2v1h-2zM545 55h2v1h-2zM549 97h2v1h-2zM549 140h2v1h-2zM549 182h2v1h-2zM549 224h2v1h-2zM549 266h2v1h-2zM549 309h2v1h-2zM550 55h2v1h-2zM554 97h2v1h-2zM554 140h2v1h-2zM554 182h2v1h-2zM554 224h2v1h-2zM554 266h2v1h-2zM554 309h2v1h-2zM555 55h2v1h-2zM557 13h1v2h-1zM557 18h1v2h-1zM557 23h1v2h-1zM557 28h1v2h-1zM557 33h1v2h-1zM557 38h1v2h-1zM557 43h1v2h-1zM557 48h1v2h-1zM557 53h1v2h-1zM557 58h1v2h-1zM557 63h1v2h-1zM557 68h1v2h-1zM557 73h1v2h-1zM557 78h1v2h-1zM557 83h1v2h-1zM557 88h1v2h-1zM557 93h1v2h-1zM557 98h1v2h-1zM557 103h1v2h-1zM557 108h1v2h-1zM557 113h1v2h-1zM557 118h1v2h-1zM557 123h1v2h-1zM557 128h1v2h-1zM557 133h1v2h-1zM557 138h1v2h-1zM557 143h1v2h-1zM557 148h1v2h-1zM557 153h1v2h-1zM557 158h1v2h-1zM557 163h1v2h-1zM557 168h1v2h-1zM557 173h1v2h-1zM557 178h1v2h-1zM557 183h1v2h-1zM557 188h1v2h-1zM557 193h1v2h-1zM557 198h1v2h-1zM557 203h1v2h-1zM557 208h1v2h-1zM557 213h1v2h-1zM557 218h1v2h-1zM557 223h1v2h-1zM557 228h1v2h-1zM557 233h1v2h-1zM557 238h1v2h-1zM557 243h1v2h-1zM557 248h1v2h-1zM557 253h1v2h-1zM557 258h1v2h-1zM557 263h1v2h-1zM557 268h1v2h-1zM557 273h1v2h-1zM557 278h1v2h-1zM557 283h1v2h-1zM557 288h1v2h-1zM557 293h1v2h-1zM557 298h1v2h-1zM557 303h1v2h-1zM557 308h1v2h-1zM557 313h1v2h-1zM557 318h1v2h-1zM557 323h1v2h-1zM557 328h1v2h-1zM557 333h1v2h-1zM557 338h1v2h-1zM557 343h1v2h-1zM557 348h1v2h-1zM559 97h2v1h-2zM559 140h2v1h-2zM559 182h2v1h-2zM559 224h2v1h-2zM559 266h2v1h-2zM559 309h2v1h-2zM560 55h2v1h-2zM564 97h2v1h-2zM564 140h2v1h-2zM564 182h2v1h-2zM564 224h2v1h-2zM564 266h2v1h-2zM564 309h2v1h-2zM565 55h2v1h-2zM569 97h2v1h-2zM569 140h2v1h-2zM569 182h2v1h-2zM569 224h2v1h-2zM569 266h2v1h-2zM569 309h2v1h-2zM570 13h1v2h-1zM570 18h1v2h-1zM570 23h1v2h-1zM570 28h1v2h-1zM570 33h1v2h-1zM570 38h1v2h-1zM570 43h1v2h-1zM570 48h1v2h-1zM570 53h1v2h-1zM570 58h1v2h-1zM570 63h1v2h-1zM570 68h1v2h-1zM570 73h1v2h-1zM570 78h1v2h-1zM570 83h1v2h-1zM570 88h1v2h-1zM570 93h1v2h-1zM570 98h1v2h-1zM570 103h1v2h-1zM570 108h1v2h-1zM570 113h1v2h-1zM570 118h1v2h-1zM570 123h1v2h-1zM570 128h1v2h-1zM570 133h1v2h-1zM570 138h1v2h-1zM570 143h1v2h-1zM570 148h1v2h-1zM570 153h1v2h-1zM570 158h1v2h-1zM570 163h1v2h-1zM570 168h1v2h-1zM570 173h1v2h-1zM570 178h1v2h-1zM570 183h1v2h-1zM570 188h1v2h-1zM570 193h1v2h-1zM570 198h1v2h-1zM570 203h1v2h-1zM570 208h1v2h-1zM570 213h1v2h-1zM570 218h1v2h-1zM570 223h1v1h-1zM570 228h1v2h-1zM570 233h1v2h-1zM570 238h1v2h-1zM570 243h1v2h-1zM570 248h1v2h-1zM570 253h1v2h-1zM570 258h1v2h-1zM570 263h1v2h-1zM570 268h1v2h-1zM570 273h1v2h-1zM570 278h1v2h-1zM570 283h1v2h-1zM570 288h1v2h-1zM570 293h1v2h-1zM570 298h1v2h-1zM570 303h1v2h-1zM570 308h1v1h-1zM570 313h1v2h-1zM570 318h1v2h-1zM570 323h1v2h-1zM570 328h1v2h-1zM570 333h1v2h-1zM570 338h1v2h-1zM570 343h1v2h-1zM570 348h1v2h-1zM570 55h2v1h-2zM574 97h2v1h-2zM574 140h2v1h-2zM574 182h2v1h-2zM574 224h2v1h-2zM574 266h2v1h-2zM574 309h2v1h-2zM575 55h2v1h-2zM579 97h2v1h-2zM579 140h2v1h-2zM579 182h2v1h-2zM579 224h2v1h-2zM579 266h2v1h-2zM579 309h2v1h-2zM580 55h2v1h-2z"/>
<path fill="#000000" d="M74 14h1v41h-1zM74 56h1v41h-1zM74 98h1v42h-1zM74 141h1v41h-1zM74 183h1v41h-1zM74 225h1v41h-1zM74 267h1v42h-1zM74 310h1v41h-1zM74 55h5v1h-5zM74 97h5v1h-5zM74 140h5v1h-5zM74 182h5v1h-5zM74 224h5v1h-5zM74 266h5v1h-5zM74 309h5v1h-5zM74 13h509v1h-509zM74 351h509v1h-509zM150 14h1v2h-1zM150 349h1v2h-1zM195 14h1v2h-1zM195 349h1v2h-1zM227 14h1v2h-1zM227 349h1v2h-1zM252 14h1v2h-1zM252 349h1v2h-1zM272 14h1v2h-1zM272 349h1v2h-1zM289 14h1v2h-1zM289 349h1v2h-1zM303 14h1v2h-1zM303 349h1v2h-1zM316 14h1v2h-1zM316 349h1v2h-1zM328 14h1v4h-1zM328 347h1v4h-1zM404 14h1v2h-1zM404 349h1v2h-1zM449 14h1v2h-1zM449 349h1v2h-1zM481 14h1v2h-1zM481 349h1v2h-1zM506 14h1v2h-1zM506 349h1v2h-1zM526 14h1v2h-1zM526 349h1v2h-1zM543 14h1v2h-1zM543 349h1v2h-1zM557 14h1v2h-1zM557 349h1v2h-1zM570 14h1v2h-1zM570 349h1v2h-1zM578 55h5v1h-5zM578 97h5v1h-5zM578 140h5v1h-5zM578 182h5v1h-5zM578 224h5v1h-5zM578 266h5v1h-5zM578 309h5v1h-5zM582 14h1v41h-1zM582 56h1v41h-1zM582 98h1v42h-1zM582 141h1v41h-1zM582 183h1v41h-1zM582 225h1v41h-1zM582 267h1v42h-1zM582 310h1v41h-1z"/>
<path fill="#ff0000" d="M151 24h33v1h-33zM164 21h1v1h-1zM164 27h1v1h-1zM165 22h1v1h-1zM165 26h1v1h-1zM166 23h3v1h-3zM166 25h3v1h-3zM167 21h1v2h-1zM167 26h1v2h-1zM169 22h1v1h-1zM169 26h1v1h-1zM170 21h1v1h-1zM170 27h1v1h-1zM224 257h1v1h-1zM224 263h1v1h-1zM224 260h7v1h-7zM225 258h1v1h-1zM225 262h1v1h-1zM226 261h3v1h-3zM226 259h5v1h-5zM227 257h1v2h-1zM227 262h1v2h-1zM229 258h1v1h-1zM229 262h1v1h-1zM230 257h1v1h-1zM230 263h1v1h-1zM231 258h3v1h-3zM234 257h2v1h-2zM236 256h3v1h-3zM239 255h2v1h-2zM241 254h2v1h-2zM243 253h3v1h-3zM246 252h2v1h-2zM248 251h3v1h-3zM251 250h2v1h-2zM253 249h3v1h-3zM256 248h2v1h-2zM258 247h3v1h-3zM261 246h2v1h-2zM263 245h2v1h-2zM265 244h3v1h-3zM268 243h2v1h-2zM270 242h3v1h-3zM273 241h2v1h-2zM275 240h3v1h-3zM278 239h2v1h-2zM280 238h3v1h-3zM283 237h2v1h-2zM285 236h3v1h-3zM288 235h2v1h-2zM290 234h2v1h-2zM292 233h3v1h-3zM295 232h2v1h-2zM297 231h3v1h-3zM300 226h1v1h-1zM300 232h1v1h-1zM300 230h5v1h-5zM300 229h7v1h-7zM301 227h1v1h-1zM301 231h1v1h-1zM302 228h6v1h-6zM303 226h1v2h-1zM303 231h1v2h-1zM305 227h1v1h-1zM305 231h1v1h-1zM306 226h1v1h-1zM306 232h1v1h-1zM308 227h2v1h-2zM310 226h3v1h-3zM313 225h3v1h-3zM316 224h3v1h-3zM319 223h3v1h-3zM322 222h2v1h-2zM324 221h6v1h-6zM325 217h1v1h-1zM325 223h1v1h-1zM325 220h8v1h-8zM326 218h1v1h-1zM326 222h1v1h-1zM327 219h3v1h-3zM328 217h1v2h-1zM328 222h1v2h-1zM330 218h1v1h-1zM330 222h1v1h-1zM331 217h1v1h-1zM331 223h1v1h-1zM333 219h8v1h-8zM341 218h8v1h-8zM349 217h8v1h-8zM357 216h8v1h-8zM365 215h8v1h-8zM373 214h8v1h-8zM381 213h8v1h-8zM389 212h8v1h-8zM397 211h8v1h-8zM405 210h8v1h-8zM413 209h9v1h-9zM422 208h8v1h-8zM430 207h8v1h-8zM438 206h8v1h-8zM446 205h8v1h-8zM454 204h8v1h-8zM462 203h8v1h-8zM470 202h8v1h-8zM478 201h8v1h-8zM486 200h8v1h-8zM494 199h8v1h-8zM502 198h8v1h-8zM503 195h1v1h-1zM503 201h1v1h-1zM504 196h1v1h-1zM504 200h1v1h-1zM505 197h3v1h-3zM505 199h3v1h-3zM506 195h1v2h-1zM506 200h1v2h-1zM508 196h1v1h-1zM508 200h1v1h-1zM509 195h1v1h-1zM509 201h1v1h-1z"/>
<path fill="#00c000" d="M151 39h33v1h-33zM164 36h7v3h-7zM164 40h7v3h-7zM224 246h7v1h-7zM224 248h7v5h-7zM224 247h8v1h-8zM232 246h1v1h-1zM233 245h2v1h-2zM235 244h1v1h-1zM236 243h2v1h-2zM238 242h2v1h-2zM240 241h1v1h-1zM241 240h2v1h-2zM243 239h1v1h-1zM244 238h2v1h-2zM246 237h2v1h-2zM248 236h1v1h-1zM249 235h2v1h-2zM251 234h2v1h-2zM253 233h1v1h-1zM254 232h2v1h-2zM256 231h1v1h-1zM257 230h2v1h-2zM259 229h2v1h-2zM261 228h1v1h-1zM262 227h2v1h-2zM264 226h1v1h-1zM265 225h2v1h-2zM267 224h2v1h-2zM269 223h1v1h-1zM270 222h2v1h-2zM272 221h2v1h-2zM274 220h1v1h-1zM275 219h2v1h-2zM277 218h1v1h-1zM278 217h2v1h-2zM280 216h2v1h-2zM282 215h1v1h-1zM283 214h2v1h-2zM285 213h2v1h-2zM287 212h1v1h-1zM288 211h2v1h-2zM290 210h1v1h-1zM291 209h2v1h-2zM293 208h2v1h-2zM295 207h1v1h-1zM296 206h2v1h-2zM298 205h1v1h-1zM299 204h8v1h-8zM300 199h7v1h-7zM300 201h7v3h-7zM300 205h7v1h-7zM300 200h8v1h-8zM308 199h1v1h-1zM309 198h2v1h-2zM311 197h2v1h-2zM313 196h1v1h-1zM314 195h2v1h-2zM316 194h2v1h-2zM318 193h1v1h-1zM319 192h2v1h-2zM321 191h2v1h-2zM323 190h1v1h-1zM324 189h8v1h-8zM325 184h7v2h-7zM325 187h7v2h-7zM325 190h7v1h-7zM325 186h8v1h-8zM333 185h3v1h-3zM336 184h3v1h-3zM339 183h3v1h-3zM342 182h3v1h-3zM345 181h2v1h-2zM347 180h3v1h-3zM350 179h3v1h-3zM353 178h3v1h-3zM356 177h3v1h-3zM359 176h3v1h-3zM362 175h3v1h-3zM365 174h3v1h-3zM368 173h3v1h-3zM371 172h3v1h-3zM374 171h3v1h-3zM377 170h3v1h-3zM380 169h2v1h-2zM382 168h3v1h-3zM385 167h3v1h-3zM388 166h3v1h-3zM391 165h3v1h-3zM394 164h3v1h-3zM397 163h3v1h-3zM400 162h3v1h-3zM403 161h3v1h-3zM406 160h3v1h-3zM409 159h3v1h-3zM412 158h3v1h-3zM415 157h2v1h-2zM417 156h3v1h-3zM420 155h3v1h-3zM423 154h3v1h-3zM426 153h3v1h-3zM429 152h3v1h-3zM432 151h3v1h-3zM435 150h3v1h-3zM438 149h3v1h-3zM441 148h3v1h-3zM444 147h3v1h-3zM447 146h3v1h-3zM450 145h3v1h-3zM453 144h2v1h-2zM455 143h3v1h-3zM458 142h3v1h-3zM461 141h3v1h-3zM464 140h3v1h-3zM467 139h3v1h-3zM470 138h3v1h-3zM473 137h3v1h-3zM476 136h3v1h-3zM479 135h3v1h-3zM482 134h3v1h-3zM485 133h3v1h-3zM488 132h2v1h-2zM490 131h3v1h-3zM493 130h3v1h-3zM496 129h3v1h-3zM499 128h3v1h-3zM502 127h8v1h-8zM503 123h7v4h-7zM503 128h7v2h-7z"/>
<path fill="#0080ff" d="M151 54h33v1h-33zM165 52h5v2h-5zM165 55h5v2h-5zM167 51h1v1h-1zM167 57h1v1h-1zM225 217h5v4h-5zM225 216h6v1h-6zM227 215h1v1h-1zM227 221h1v1h-1zM231 215h1v1h-1zM232 214h2v1h-2zM234 213h1v1h-1zM235 212h2v1h-2zM237 211h1v1h-1zM238 210h1v1h-1zM239 209h2v1h-2zM241 208h1v1h-1zM242 207h2v1h-2zM244 206h1v1h-1zM245 205h1v1h-1zM246 204h2v1h-2zM248 203h1v1h-1zM249 202h2v1h-2zM251 201h1v1h-1zM252 200h2v1h-2zM254 199h1v1h-1zM255 198h1v1h-1zM256 197h2v1h-2zM258 196h1v1h-1zM259 195h2v1h-2zM261 194h1v1h-1zM262 193h1v1h-1zM263 192h2v1h-2zM265 191h1v1h-1zM266 190h2v1h-2zM268 189h1v1h-1zM269 188h1v1h-1zM270 187h2v1h-2zM272 186h1v1h-1zM273 185h2v1h-2zM275 184h1v1h-1zM276 183h1v1h-1zM277 182h2v1h-2zM279 181h1v1h-1zM280 180h2v1h-2zM282 179h1v1h-1zM283 178h1v1h-1zM284 177h2v1h-2zM286 176h1v1h-1zM287 175h2v1h-2zM289 174h1v1h-1zM290 173h2v1h-2zM292 172h1v1h-1zM293 171h1v1h-1zM294 170h2v1h-2zM296 169h1v1h-1zM297 168h2v1h-2zM299 167h1v1h-1zM300 166h6v1h-6zM301 162h5v4h-5zM303 161h1v1h-1zM303 167h1v1h-1zM306 161h2v1h-2zM308 160h1v1h-1zM309 159h1v1h-1zM310 158h1v1h-1zM311 157h1v1h-1zM312 156h2v1h-2zM314 155h1v1h-1zM315 154h1v1h-1zM316 153h1v1h-1zM317 152h1v1h-1zM318 151h2v1h-2zM320 150h1v1h-1zM321 149h1v1h-1zM322 148h1v1h-1zM323 147h1v1h-1zM324 146h2v1h-2zM326 141h5v1h-5zM326 143h5v3h-5zM326 142h7v1h-7zM328 140h1v1h-1zM328 146h1v1h-1zM333 141h3v1h-3zM336 140h2v1h-2zM338 139h3v1h-3zM341 138h3v1h-3zM344 137h3v1h-3zM347 136h3v1h-3zM350 135h3v1h-3zM353 134h2v1h-2zM355 133h3v1h-3zM358 132h3v1h-3zM361 131h3v1h-3zM364 130h3v1h-3zM367 129h2v1h-2zM369 128h3v1h-3zM372 127h3v1h-3zM375 126h3v1h-3zM378 125h3v1h-3zM381 124h3v1h-3zM384 123h2v1h-2zM386 122h3v1h-3zM389 121h3v1h-3zM392 120h3v1h-3zM395 119h3v1h-3zM398 118h3v1h-3zM401 117h2v1h-2zM403 116h3v1h-3zM406 115h3v1h-3zM409 114h3v1h-3zM412 113h3v1h-3zM415 112h2v1h-2zM417 111h3v1h-3zM420 110h3v1h-3zM423 109h3v1h-3zM426 108h3v1h-3zM429 107h3v1h-3zM432 106h2v1h-2zM434 105h3v1h-3zM437 104h3v1h-3zM440 103h3v1h-3zM443 102h3v1h-3zM446 101h3v1h-3zM449 100h2v1h-2zM451 99h3v1h-3zM454 98h3v1h-3zM457 97h3v1h-3zM460 96h3v1h-3zM463 95h3v1h-3zM466 94h2v1h-2zM468 93h3v1h-3zM471 92h3v1h-3zM474 91h3v1h-3zM477 90h3v1h-3zM480 89h2v1h-2zM482 88h3v1h-3zM485 87h3v1h-3zM488 86h3v1h-3zM491 85h3v1h-3zM494 84h3v1h-3zM497 83h2v1h-2zM499 82h3v1h-3zM502 81h7v1h-7zM504 78h5v3h-5zM504 82h5v1h-5zM506 77h1v1h-1zM506 83h1v1h-1z"/>
<path fill="#c000ff" d="M151 69h33v1h-33zM163 71h9v1h-9zM164 70h7v1h-7zM165 68h5v1h-5zM166 66h3v2h-3zM167 65h1v1h-1zM223 215h9v1h-9zM224 214h7v1h-7zM225 212h5v2h-5zM226 210h3v1h-3zM226 211h5v1h-5zM227 209h1v1h-1zM231 210h1v1h-1zM232 209h1v1h-1zM233 208h1v1h-1zM234 207h2v1h-2zM236 206h1v1h-1zM237 205h1v1h-1zM238 204h1v1h-1zM239 203h2v1h-2zM241 202h1v1h-1zM242 201h1v1h-1zM243 200h1v1h-1zM244 199h2v1h-2zM246 198h1v1h-1zM247 197h1v1h-1zM248 196h1v1h-1zM249 195h2v1h-2zM251 194h1v1h-1zM252 193h1v1h-1zM253 192h1v1h-1zM254 191h2v1h-2zM256 190h1v1h-1zM257 189h1v1h-1zM258 188h1v1h-1zM259 187h2v1h-2zM261 186h1v1h-1zM262 185h1v1h-1zM263 184h1v1h-1zM264 183h1v1h-1zM265 182h2v1h-2zM267 181h1v1h-1zM268 180h1v1h-1zM269 179h1v1h-1zM270 178h2v1h-2zM272 177h1v1h-1zM273 176h1v1h-1zM274 175h1v1h-1zM275 174h2v1h-2zM277 173h1v1h-1zM278 172h1v1h-1zM279 171h1v1h-1zM280 170h2v1h-2zM282 169h1v1h-1zM283 168h1v1h-1zM284 167h1v1h-1zM285 166h2v1h-2zM287 165h1v1h-1zM288 164h1v1h-1zM289 163h1v1h-1zM290 162h2v1h-2zM292 161h1v1h-1zM293 160h1v1h-1zM294 159h1v1h-1zM295 158h2v1h-2zM297 157h1v1h-1zM298 156h1v1h-1zM299 155h1v1h-1zM299 154h9v1h-9zM300 153h7v1h-7zM301 151h5v2h-5zM302 149h3v1h-3zM302 150h4v1h-4zM303 148h1v1h-1zM306 149h1v1h-1zM307 148h1v1h-1zM308 147h1v1h-1zM309 146h1v1h-1zM310 145h1v1h-1zM311 144h1v1h-1zM312 143h1v1h-1zM313 142h1v1h-1zM314 141h1v1h-1zM315 140h1v1h-1zM316 138h1v2h-1zM317 137h1v1h-1zM318 136h1v1h-1zM319 135h1v1h-1zM320 134h1v1h-1zM321 133h1v1h-1zM322 132h1v1h-1zM323 131h1v1h-1zM324 130h1v1h-1zM324 128h9v1h-9zM325 129h1v1h-1zM325 127h7v1h-7zM326 126h5v1h-5zM326 125h6v1h-6zM327 123h3v2h-3zM328 122h1v1h-1zM332 124h2v1h-2zM334 123h3v1h-3zM337 122h2v1h-2zM339 121h2v1h-2zM341 120h3v1h-3zM344 119h2v1h-2zM346 118h2v1h-2zM348 117h3v1h-3zM351 116h2v1h-2zM353 115h2v1h-2zM355 114h3v1h-3zM358 113h2v1h-2zM360 112h2v1h-2zM362 111h3v1h-3zM365 110h2v1h-2zM367 109h2v1h-2zM369 108h3v1h-3zM372 107h2v1h-2zM374 106h3v1h-3zM377 105h2v1h-2zM379 104h2v1h-2zM381 103h3v1h-3zM384 102h2v1h-2zM386 101h2v1h-2zM388 100h3v1h-3zM391 99h2v1h-2zM393 98h2v1h-2zM395 97h3v1h-3zM398 96h2v1h-2zM400 95h2v1h-2zM402 94h3v1h-3zM405 93h2v1h-2zM407 92h2v1h-2zM409 91h3v1h-3zM412 90h2v1h-2zM414 89h2v1h-2zM416 88h3v1h-3zM419 87h2v1h-2zM421 86h2v1h-2zM423 85h3v1h-3zM426 84h2v1h-2zM428 83h2v1h-2zM430 82h3v1h-3zM433 81h2v1h-2zM435 80h2v1h-2zM437 79h3v1h-3zM440 78h2v1h-2zM442 77h2v1h-2zM444 76h3v1h-3zM447 75h2v1h-2zM449 74h2v1h-2zM451 73h3v1h-3zM454 72h2v1h-2zM456 71h2v1h-2zM458 70h3v1h-3zM461 69h2v1h-2zM463 68h3v1h-3zM466 67h2v1h-2zM468 66h2v1h-2zM470 65h3v1h-3zM473 64h2v1h-2zM475 63h2v1h-2zM477 62h3v1h-3zM480 61h2v1h-2zM482 60h2v1h-2zM484 59h3v1h-3zM487 58h2v1h-2zM489 57h2v1h-2zM491 56h3v1h-3zM494 55h2v1h-2zM496 54h2v1h-2zM498 53h3v1h-3zM501 52h10v1h-10zM503 51h7v1h-7zM504 49h5v2h-5zM505 47h3v2h-3zM506 46h1v1h-1z"/>
<path fill="#00eeee" d="M151 84h33v1h-33zM165 83h5v1h-5zM165 85h5v1h-5zM166 82h3v1h-3zM166 86h3v1h-3zM167 81h1v1h-1zM167 87h1v1h-1zM224 210h7v1h-7zM225 209h5v1h-5zM225 211h5v1h-5zM226 212h3v1h-3zM226 208h5v1h-5zM227 207h1v1h-1zM227 213h1v1h-1zM231 207h1v1h-1zM232 206h1v1h-1zM233 205h1v1h-1zM234 204h1v1h-1zM235 203h2v1h-2zM237 202h1v1h-1zM238 201h1v1h-1zM239 200h1v1h-1zM240 199h1v1h-1zM241 198h2v1h-2zM243 197h1v1h-1zM244 196h1v1h-1zM245 195h1v1h-1zM246 194h1v1h-1zM247 193h2v1h-2zM249 192h1v1h-1zM250 191h1v1h-1zM251 190h1v1h-1zM252 189h1v1h-1zM253 188h2v1h-2zM255 187h1v1h-1zM256 186h1v1h-1zM257 185h1v1h-1zM258 184h1v1h-1zM259 183h2v1h-2zM261 182h1v1h-1zM262 181h1v1h-1zM263 180h1v1h-1zM264 179h1v1h-1zM265 178h2v1h-2zM267 177h1v1h-1zM268 176h1v1h-1zM269 175h1v1h-1zM270 174h2v1h-2zM272 173h1v1h-1zM273 172h1v1h-1zM274 171h1v1h-1zM275 170h1v1h-1zM276 169h2v1h-2zM278 168h1v1h-1zM279 167h1v1h-1zM280 166h1v1h-1zM281 165h1v1h-1zM282 164h2v1h-2zM284 163h1v1h-1zM285 162h1v1h-1zM286 161h1v1h-1zM287 160h1v1h-1zM288 159h2v1h-2zM290 158h1v1h-1zM291 157h1v1h-1zM292 156h1v1h-1zM293 155h1v1h-1zM294 154h2v1h-2zM296 153h1v1h-1zM297 152h1v1h-1zM298 151h1v1h-1zM299 150h1v1h-1zM300 149h5v1h-5zM300 147h7v1h-7zM301 146h5v1h-5zM301 148h5v1h-5zM302 145h4v1h-4zM303 144h1v1h-1zM303 150h1v1h-1zM306 144h1v1h-1zM307 143h1v1h-1zM308 142h1v1h-1zM309 140h1v2h-1zM310 139h1v1h-1zM311 138h1v1h-1zM312 137h1v1h-1zM313 136h1v1h-1zM314 135h1v1h-1zM315 134h1v1h-1zM316 133h1v1h-1zM317 132h1v1h-1zM318 131h1v1h-1zM319 130h1v1h-1zM320 129h1v1h-1zM321 128h1v1h-1zM322 126h1v2h-1zM323 125h1v1h-1zM324 124h1v1h-1zM325 123h1v1h-1zM325 120h7v1h-7zM326 122h4v1h-4zM326 121h5v1h-5zM326 119h6v1h-6zM327 118h3v1h-3zM328 117h1v1h-1zM328 123h1v1h-1zM332 118h3v1h-3zM335 117h2v1h-2zM337 116h2v1h-2zM339 115h3v1h-3zM342 114h2v1h-2zM344 113h3v1h-3zM347 112h2v1h-2zM349 111h3v1h-3zM352 110h2v1h-2zM354 109h3v1h-3zM357 108h2v1h-2zM359 107h2v1h-2zM361 106h3v1h-3zM364 105h2v1h-2zM366 104h3v1h-3zM369 103h2v1h-2zM371 102h3v1h-3zM374 101h2v1h-2zM376 100h2v1h-2zM378 99h3v1h-3zM381 98h2v1h-2zM383 97h3v1h-3zM386 96h2v1h-2zM388 95h3v1h-3zM391 94h2v1h-2zM393 93h3v1h-3zM396 92h2v1h-2zM398 91h2v1h-2zM400 90h3v1h-3zM403 89h2v1h-2zM405 88h3v1h-3zM408 87h2v1h-2zM410 86h3v1h-3zM413 85h2v1h-2zM415 84h2v1h-2zM417 83h3v1h-3zM420 82h2v1h-2zM422 81h3v1h-3zM425 80h2v1h-2zM427 79h3v1h-3zM430 78h2v1h-2zM432 77h3v1h-3zM435 76h2v1h-2zM437 75h2v1h-2zM439 74h3v1h-3zM442 73h2v1h-2zM444 72h3v1h-3zM447 71h2v1h-2zM449 70h3v1h-3zM452 69h2v1h-2zM454 68h3v1h-3zM457 67h2v1h-2zM459 66h2v1h-2zM461 65h3v1h-3zM464 64h2v1h-2zM466 63h3v1h-3zM469 62h2v1h-2zM471 61h3v1h-3zM474 60h2v1h-2zM476 59h2v1h-2zM478 58h3v1h-3zM481 57h2v1h-2zM483 56h3v1h-3zM486 55h2v1h-2zM488 54h3v1h-3zM491 53h2v1h-2zM493 52h3v1h-3zM496 51h2v1h-2zM498 50h2v1h-2zM500 49h3v1h-3zM503 48h6v1h-6zM503 47h7v1h-7zM504 46h5v1h-5zM505 45h3v1h-3zM505 49h3v1h-3zM506 44h1v1h-1zM506 50h1v1h-1z"/>
<text transform="scale(0.8,1)" x="71.00" y="355">0</text>
<text transform="scale(0.8,1)" x="62.65 71.00" y="313">20</text>
<text transform="scale(0.8,1)" x="62.67 71.00" y="270">40</text>
<text transform="scale(0.8,1)" x="62.69 71.00" y="228">60</text>
<text transform="scale(0.8,1)" x="62.67 71.00" y="186">80</text>
<text transform="scale(0.8,1)" x="53.63 61.92 70.25" y="144">100</text>
<text transform="scale(0.8,1)" x="53.63 61.90 70.25" y="101">120</text>
<text transform="scale(0.8,1)" x="53.63 61.92 70.25" y="59">140</text>
<text transform="scale(0.8,1)" x="53.63 61.94 70.25" y="17">160</text>
<text transform="scale(0.8,1)" x="78.38 86.67 95.00" y="370">100</text>
<text transform="scale(0.8,1)" x="392.34 400.63 408.96 417.29" y="370">1000</text>
<text transform="scale(0.8,1)" x="706.17 714.46 722.79 731.12 739.46" y="370">10000</text>
<text transform="scale(0.88,1)" x="102.67 107.14 109.30 117.65 122.05 130.19 138.65 141.88 150.86 155.33" y="28">t = 10 m s</text>
<text transform="scale(0.88,1)" x="102.67 107.14 109.30 117.65 122.31 130.19 138.65 141.88 150.86 155.33" y="43">t = 20 m s</text>
<text transform="scale(0.88,1)" x="102.67 107.14 109.30 117.65 122.18 130.19 138.65 141.88 150.86 155.33" y="58">t = 30 m s</text>
<text transform="scale(0.88,1)" x="102.67 107.14 109.30 117.65 122.21 130.19 138.65 141.88 150.86 155.33" y="73">t = 40 m s</text>
<text transform="scale(0.88,1)" x="102.67 107.14 109.30 117.65 122.11 130.19 138.65 141.88 150.86 155.33" y="88">t = 50 m s</text>
<text transform="scale(0.88,1)" x="325.74 333.90 340.59 346.58 352.11 356.04 364.11 371.00 375.37 380.61 393.98 402.58 408.72" y="392">Presión [MPa]</text>
<g transform="translate(27.0,252.2) rotate(-89.64)"><text transform="scale(0.88,1)" x="0.12 9.07 15.76 22.55 29.91 36.36 40.64 48.36 52.59 59.57 66.09 70.66 75.64 82.89 86.98 93.50 100.59 106.94 111.05 115.97 123.33 134.47 138.87 150.08" y="0">Trabajo de rotura [kN m]</text></g>
</svg></body></html>
